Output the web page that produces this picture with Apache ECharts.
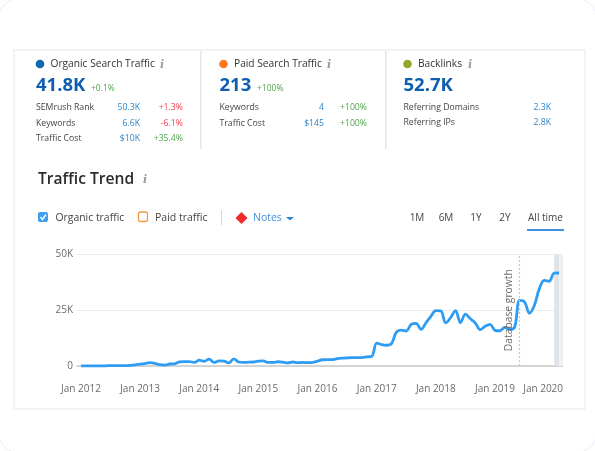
<!DOCTYPE html>
<html><head><meta charset="utf-8">
<style>html,body{margin:0;padding:0;background:#fff}#c{width:595px;height:451px}</style>
<script src="https://cdn.jsdelivr.net/npm/echarts@6/dist/echarts.min.js"></script>
</head><body><div id="c"></div>
<script>
var organicTraffic = [
 0.1,0.1,0.1,0.1,0.1,0.1,0.2,0.2,0.2,0.2,0.3,0.5,
 0.8,1.1,1.5,1.2,0.6,0.4,0.9,1.0,1.8,2.0,2.0,1.6,
 2.6,2.1,3.1,1.6,2.3,2.2,1.4,3.2,1.8,1.6,1.7,1.8,
 2.2,2.3,1.6,1.6,1.9,1.7,1.4,1.8,1.5,1.6,1.5,1.6,
 2.2,2.8,2.9,2.9,3.3,3.5,3.6,3.8,3.8,3.8,4.1,4.3,
 10.3,9.6,9.3,10.0,15.2,16.1,15.7,18.7,19.1,16.4,19.4,22.3,
 24.8,24.7,19.3,21.7,24.8,19.4,23.3,21.2,19.3,16.3,17.8,18.7,
 16.0,15.8,17.3,16.4,17.5,29.4,28.7,23.6,27.2,34.7,38.4,38.0,
 41.6,41.7];
var yTicks = [0, 25000, 50000];
var yearLabels = [2012,2013,2014,2015,2016,2017,2018,2019,2020];
var kpiHeads = [
 {title:'Organic Search Traffic', value:'41.8K', delta:'+0.1%', dot:'#0e67b5'},
 {title:'Paid Search Traffic', value:'213', delta:'+100%', dot:'#ff7a1a'},
 {title:'Backlinks', value:'52.7K', delta:'', dot:'#8fa82b'}];
var organicRows = [['SEMrush Rank','50.3K','+1.3%'],['Keywords','6.6K','-6.1%'],['Traffic Cost','$10K','+35.4%']];
var paidRows = [['Keywords','4','+100%'],['Traffic Cost','$145','+100%']];
var backlinkRows = [['Referring Domains','2.3K',''],['Referring IPs','2.8K','']];
var ranges = ['1M','6M','1Y','2Y','All time'];

var FONT = '"Open Sans","Noto Sans",sans-serif';
var g = [];
function T(x,y,s,size,color,o){o=o||{};g.push({type:'text',x:x,y:y+1.2,silent:true,rotation:o.rot||0,z:o.z||5,
  style:{text:s,font:(o.st||'')+' '+(o.w||'400')+' '+size+'px '+(o.fam||FONT),fill:color,align:o.align||'left',verticalAlign:'middle'}});}
function R(x,y,w,h,fill,o){o=o||{};g.push({type:'rect',silent:true,z:o.z||1,shape:{x:x,y:y,width:w,height:h,r:o.r||0},
  style:{fill:fill,stroke:o.stroke||null,lineWidth:o.lw||0}});}
function C(x,y,r,fill){g.push({type:'circle',silent:true,z:5,shape:{cx:x,cy:y,r:r},style:{fill:fill}});}
function info(x,y){T(x,y,'i',11,'#9a9a9a',{w:'700',st:'italic',fam:'"DejaVu Serif",serif',align:'center'});}

// frame + card
R(-2,-2,599,455,'#fff',{stroke:'#ece8f8',lw:1,r:22,z:-2});
R(14,50,571,359,'#fff',{stroke:'#f0f0f0',lw:1.5,z:-1});
R(200,51,1.5,98,'#e4e6e8'); R(385,51,1.5,98,'#e4e6e8');

var colX=[36,219.5,403.5], dotX=[40,223.5,407.5];
kpiHeads.forEach(function(k,i){
  C(dotX[i],64,4.3,k.dot);
  T(dotX[i]+10.5,63,k.title,10.2,'#333333');
});
info(162,63.5); info(329,63.5); info(470,63.5);
kpiHeads.forEach(function(k,i){
  T(colX[i],84.5,k.value,18.5,'#0e5fb0',{w:'700'});
});
T(91,87,kpiHeads[0].delta,8.5,'#4ea64e');
T(257,87,kpiHeads[1].delta,8.5,'#4ea64e');
function rows(list,x,vx,dx,ys){list.forEach(function(r,i){
  T(x,ys[i],r[0],8.7,'#444444');
  T(vx,ys[i],r[1],8.7,'#2a84c8',{align:'right'});
  if(r[2]) T(dx,ys[i],r[2],8.7,(list===organicRows&&i<2)?'#f0404f':'#4ea64e',{align:'right'});
});}
rows(organicRows,36,140,183,[106.5,122,137.5]);
rows(paidRows,219.5,324,367,[106.5,122]);
rows(backlinkRows,403.5,551,0,[106.5,121.5]);

T(38,178,'Traffic Trend',15.6,'#2b2b2b',{w:'600'});
info(145,179);

// legend row
R(38,212,10,10,'#3f9ff0',{r:2});
g.push({type:'polyline',silent:true,z:6,shape:{points:[[40.5,217],[42.5,219.5],[46,214.5]]},style:{stroke:'#fff',lineWidth:1.5,fill:null}});
T(55.5,216.5,'Organic traffic',10.4,'#444444');
R(138.5,212,9,9.5,'#fff',{r:2,stroke:'#f59a4a',lw:1.3});
T(155,216.5,'Paid traffic',10.5,'#444444');
R(221,210,1,15,'#d6d6d6');
g.push({type:'polygon',silent:true,z:5,shape:{points:[[241.5,212],[247.5,218],[241.5,224],[235.5,218]]},style:{fill:'#ee2a2a'}});
T(253,217,'Notes',10.5,'#3f93de');
g.push({type:'polygon',silent:true,z:5,shape:{points:[[286,217],[294,217],[290,220.5]]},style:{fill:'#2a84d0'}});

// range tabs
var tabX=[417,446,476,505,545.5];
ranges.forEach(function(r,i){T(tabX[i],217,r,10,'#444444',{align:'center'});});
R(527,229,37,2,'#3f93de');

// annotation
T(509.5,309,'Database growth',10.3,'#6b6b6b',{rot:Math.PI/2,align:'center',z:20});

// x is months since Jan 2012
var seriesData = organicTraffic.map(function(v,i){return [i, v*1000];});
var xTicks = yearLabels.map(function(y){return (y-2012)*12;});
var noteMonth = 89, bandA = 96, bandB = 97, axisEnd = 97.8;

var chart = echarts.init(document.getElementById('c'),null,{renderer:'canvas'});
chart.setOption({
  animation:false,
  textStyle:{fontFamily:FONT},
  grid:{left:77,right:32,top:254.5,bottom:85,containLabel:false},
  xAxis:{type:'value',min:-0.8,max:axisEnd,
    axisLine:{show:true,onZero:false,lineStyle:{color:'#c9c9c9',width:1.5}},
    axisTick:{show:false},splitLine:{show:false},
    axisLabel:{customValues:xTicks,color:'#6b6b6b',fontSize:10,margin:18,hideOverlap:false,showMaxLabel:true,showMinLabel:true,
      formatter:function(v){var y=2012+v/12;return y===2020?'{last|Jan '+y+'}':'Jan '+y;},
      rich:{last:{color:'#6b6b6b',fontSize:10,padding:[0,22,0,0]}}}},
  yAxis:{type:'value',min:yTicks[0],max:yTicks[2],interval:yTicks[1],
    axisLine:{show:false},axisTick:{show:false},
    splitLine:{lineStyle:{color:'#eceef0',width:1.2}},
    axisLabel:{color:'#6b6b6b',fontSize:10,margin:4,
      formatter:function(v){return v===0?'0':(v/1000)+'K';}}},
  series:[{type:'line',data:seriesData,smooth:0.35,showSymbol:false,clip:false,
    lineStyle:{color:'#2f9cf4',width:2.8},itemStyle:{color:'#2f9cf4'},z:3,
    markLine:{silent:true,symbol:'none',label:{show:false},
      lineStyle:{color:'#c4c8cc',type:[2,2],width:1.2},data:[{xAxis:noteMonth}]},
    markArea:{silent:true,
      data:[[{xAxis:bandA,itemStyle:{color:'#dfe4e8'}},{xAxis:bandB}],
            [{xAxis:bandB,itemStyle:{color:'#eef1f3'}},{xAxis:axisEnd}]]}
  }],
  graphic:g
});
</script></body></html>
